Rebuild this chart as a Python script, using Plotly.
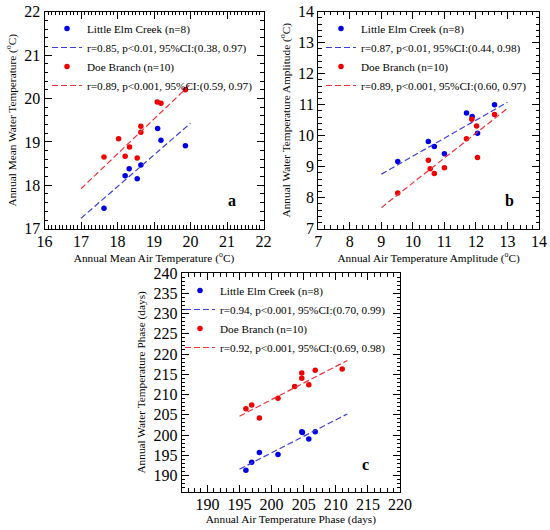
import plotly.graph_objects as go

# panel a - annual mean temperature (deg C)
lec_mean_air = [17.63, 18.21, 18.32, 18.54, 18.64, 19.10, 19.19, 19.86]
lec_mean_water = [17.47, 18.22, 18.38, 18.15, 18.47, 19.31, 19.04, 18.91]
doe_mean_air = [17.63, 18.03, 18.21, 18.33, 18.54, 18.64, 18.64, 19.09, 19.19, 19.86]
doe_mean_water = [18.65, 19.07, 18.67, 18.88, 18.63, 19.22, 19.36, 19.92, 19.89, 20.20]
fit_mean_x = [17, 20]
lec_mean_fit = [17.24, 19.43]
doe_mean_fit = [17.92, 20.33]

# panel b - annual amplitude (deg C)
lec_amp_air = [9.52, 10.49, 10.68, 11.00, 11.70, 11.88, 12.05, 12.59]
lec_amp_water = [9.17, 9.81, 9.65, 9.42, 10.73, 10.62, 10.08, 11.00]
doe_amp_air = [9.52, 10.49, 10.55, 10.68, 11.00, 11.70, 11.87, 12.02, 12.05, 12.59]
doe_amp_water = [8.15, 9.21, 8.93, 8.78, 8.97, 9.90, 10.53, 10.31, 9.30, 10.68]
fit_amp_x = [9, 13]
lec_amp_fit = [8.76, 11.08]
doe_amp_fit = [7.68, 10.88]

# panel c - annual phase (days)
lec_phase_air = [196.0, 196.9, 198.1, 201.0, 204.7, 204.8, 205.8, 206.8]
lec_phase_water = [191.3, 193.3, 195.7, 195.2, 200.8, 200.6, 199.0, 200.8]
doe_phase_air = [196.0, 196.9, 198.1, 201.0, 203.6, 204.7, 204.7, 205.8, 206.8, 211.0]
doe_phase_water = [206.5, 207.4, 204.2, 209.1, 212.0, 214.0, 215.3, 212.4, 216.0, 216.3]
fit_phase_x = [195, 211.8]
lec_phase_fit = [191.55, 205.2]
doe_phase_fit = [204.65, 218.4]

stats = {
    'a': ['r=0.85, p<0.01, 95%CI:(0.38, 0.97)', 'r=0.89, p<0.001, 95%CI:(0.59, 0.97)'],
    'b': ['r=0.87, p<0.01, 95%CI:(0.44, 0.98)', 'r=0.89, p<0.001, 95%CI:(0.60, 0.97)'],
    'c': ['r=0.94, p<0.001, 95%CI:(0.70, 0.99)', 'r=0.92, p<0.001, 95%CI:(0.69, 0.98)'],
}

SERIF = 'Liberation Serif, Times New Roman, DejaVu Serif, serif'
BLUE = '#0000e6'
RED = '#f00000'
BLUE_LINE = '#3c3cdc'
RED_LINE = '#f0323c'
DASH = '6px,3px'

fig = go.Figure()

panels = [
    ('a', 'x', 'y', 'legend', lec_mean_air, lec_mean_water, doe_mean_air, doe_mean_water,
     fit_mean_x, lec_mean_fit, doe_mean_fit),
    ('b', 'x2', 'y2', 'legend2', lec_amp_air, lec_amp_water, doe_amp_air, doe_amp_water,
     fit_amp_x, lec_amp_fit, doe_amp_fit),
    ('c', 'x3', 'y3', 'legend3', lec_phase_air, lec_phase_water, doe_phase_air, doe_phase_water,
     fit_phase_x, lec_phase_fit, doe_phase_fit),
]

for key, xa, ya, leg, lx, ly, dx, dy, fx, lf, df in panels:
    fig.add_trace(go.Scatter(x=lx, y=ly, mode='markers', xaxis=xa, yaxis=ya, legend=leg,
                             name='Little Elm Creek (n=8)',
                             marker=dict(color=BLUE, size=5.5)))
    fig.add_trace(go.Scatter(x=fx, y=lf, mode='lines', xaxis=xa, yaxis=ya, legend=leg,
                             name=stats[key][0],
                             line=dict(color=BLUE_LINE, width=1.2, dash=DASH)))
    fig.add_trace(go.Scatter(x=dx, y=dy, mode='markers', xaxis=xa, yaxis=ya, legend=leg,
                             name='Doe Branch (n=10)',
                             marker=dict(color=RED, size=5.5)))
    fig.add_trace(go.Scatter(x=fx, y=df, mode='lines', xaxis=xa, yaxis=ya, legend=leg,
                             name=stats[key][1],
                             line=dict(color=RED_LINE, width=1.2, dash=DASH)))


def axis(rng, dtick, minor, domain, anchor, title, standoff, labeloff=0):
    return dict(range=rng, dtick=dtick, domain=domain, anchor=anchor, automargin=False,
                showline=True, linecolor='black', linewidth=1, mirror='ticks',
                ticks='inside', ticklen=7, tickwidth=1, tickcolor='black',
                minor=dict(dtick=minor, ticks='inside', ticklen=3.5, tickwidth=1,
                           tickcolor='black'),
                showgrid=False, zeroline=False, ticklabelstandoff=labeloff,
                tickfont=dict(family=SERIF, size=16, color='black'),
                title=dict(text=title, standoff=standoff,
                           font=dict(family=SERIF, size=11.3, color='black')))


dom_top = [1 - 228.7 / 530, 1 - 11.7 / 530]
dom_bot = [1 - 491.7 / 530, 1 - 273 / 530]

fig.update_layout(
    template='none',
    width=550, height=530,
    margin=dict(l=0, r=0, t=0, b=0),
    paper_bgcolor='white', plot_bgcolor='white',
    font=dict(family=SERIF, color='black'),
    xaxis=axis([16, 22], 1, 0.1, [44.5 / 550, 263.5 / 550], 'y',
               'Annual Mean Air Temperature (<sup>o</sup>C)', 2, -2),
    yaxis=axis([17, 22], 1, 0.2, dom_top, 'x',
               'Annual Mean Water Temperature (<sup>o</sup>C)', 5),
    xaxis2=axis([7, 14], 1, 0.2, [318.3 / 550, 539 / 550], 'y2',
                'Annual Air Temperature Amplitude (<sup>o</sup>C)', 2, -2),
    yaxis2=axis([7, 14], 1, 0.2, dom_top, 'x2',
                'Annual Water Temperature Amplitude (<sup>o</sup>C)', 5),
    xaxis3=axis([186, 220], 5, 1, [181.7 / 550, 400 / 550], 'y3',
                'Annual Air Temperature Phase (days)', 2, -2),
    yaxis3=axis([186, 240], 5, 1, dom_bot, 'x3',
                'Annual Water Temperature Phase (days)', 5),
)

legend_style = dict(xanchor='left', yanchor='top', bgcolor='rgba(0,0,0,0)',
                    font=dict(family=SERIF, size=11.2, color='black'),
                    tracegroupgap=0)
fig.update_layout(
    legend=dict(x=47 / 550, y=1 - 14 / 530, **legend_style),
    legend2=dict(x=321 / 550, y=1 - 14 / 530, **legend_style),
    legend3=dict(x=180 / 550, y=1 - 276 / 530, **legend_style),
)

for lbl, xr, yr, xp, yp in [('a', 'x domain', 'y domain', 0.883, 0.08),
                            ('b', 'x2 domain', 'y2 domain', 0.895, 0.08),
                            ('c', 'x3 domain', 'y3 domain', 0.865, 0.075)]:
    fig.add_annotation(text='<b>' + lbl + '</b>', xref=xr, yref=yr, x=xp, y=yp,
                       showarrow=False, font=dict(family=SERIF, size=16, color='black'))

# the page body has an 8px default margin; drop it so the 550x530 figure fills the window
fig.write_html('out.html', config={'displayModeBar': False},
               post_script="document.body.style.margin = '0';")
